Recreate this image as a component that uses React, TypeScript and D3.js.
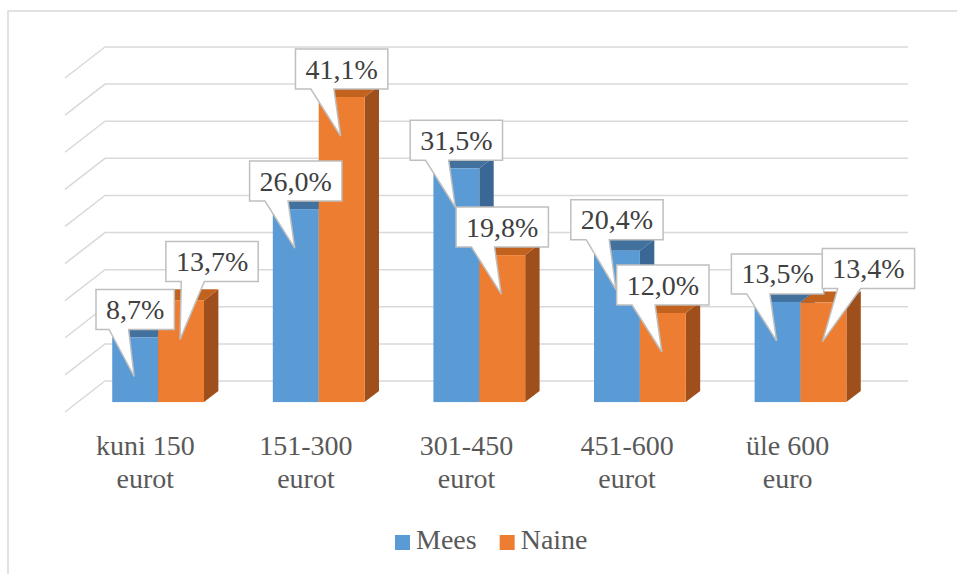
import { useEffect, useRef } from 'react';
import * as d3 from 'd3';

const categories = ['kuni 150\neurot', '151-300\neurot', '301-450\neurot', '451-600\neurot', 'üle 600\neuro'];
const seriesNames = ['Mees', 'Naine'];
const mees = [8.7, 26.0, 31.5, 20.4, 13.5];
const naine = [13.7, 41.1, 19.8, 12.0, 13.4];
const gridValues = [0, 5, 10, 15, 20, 25, 30, 35, 40, 45];

const W = 957;
const H = 574;
const FONT = "'Times New Roman', 'Liberation Serif', Tinos, 'DejaVu Serif', serif";

// face colours: front, top, side
const palette: Record<string, [string, string, string]> = {
  Mees: ['#5b9bd5', '#41719c', '#3a6793'],
  Naine: ['#ed7d31', '#c2621f', '#9e4f1b'],
};

// hand nudges for callouts that Excel moved off their default spot
const labelShift: Record<string, [number, number]> = {
  'Naine-0': [31, -11],
  'Mees-3': [0, -3],
  'Naine-4': [45, -6],
};

export default function App() {
  const svgRef = useRef<SVGSVGElement>(null);

  useEffect(() => {
    if (!svgRef.current) return;
    const svg = d3.select(svgRef.current);
    svg.selectAll('*').remove();

    // floor: front edge starts at (65, 412), depth vector goes to back wall
    const floorX = 65;
    const floorY = 412;
    const depth = { x: 40, y: -31 };
    const floorWidth = 803;
    const barT0 = 0.32;
    const barT1 = 0.68;

    const x = d3.scaleBand<string>().domain(categories).range([0, floorWidth]);
    const xs = d3.scaleBand<string>().domain(seriesNames).range([0, x.bandwidth()]).paddingOuter(0.75);
    const h = d3.scaleLinear().domain([0, 45]).range([0, 334]);

    const back = { x: floorX + depth.x, y: floorY + depth.y };
    const front = { x: floorX + depth.x * barT0, y: floorY + depth.y * barT0 };
    const bd = { x: depth.x * (barT1 - barT0), y: depth.y * (barT1 - barT0) };

    // chart border
    svg.append('rect')
      .attr('x', 8).attr('y', 11)
      .attr('width', 980).attr('height', 580)
      .attr('fill', 'none')
      .attr('stroke', '#d9d9d9')
      .attr('stroke-width', 1.5);

    // back wall + side wall gridlines
    const grid = svg.append('g').attr('stroke', '#d9d9d9').attr('stroke-width', 1.5).attr('fill', 'none');
    gridValues.forEach((v) => {
      const y = back.y - h(v);
      grid.append('path')
        .attr('d', `M${back.x - depth.x},${y - depth.y}L${back.x},${y}H${back.x + floorWidth}`);
    });

    // bars
    const bw = xs.bandwidth();
    type Bar = { s: string; i: number; v: number; x0: number; top: number };
    const bars: Bar[] = [];
    categories.forEach((c, i) => {
      seriesNames.forEach((s) => {
        const v = s === 'Mees' ? mees[i] : naine[i];
        bars.push({ s, i, v, x0: front.x + (x(c) ?? 0) + (xs(s) ?? 0), top: front.y - h(v) });
      });
    });

    const gBars = svg.append('g');
    bars.forEach((b) => {
      const [cf, ct, cs] = palette[b.s];
      const x1 = b.x0 + bw;
      const base = front.y;
      gBars.append('path')
        .attr('d', `M${x1},${base}L${x1 + bd.x},${base + bd.y}L${x1 + bd.x},${b.top + bd.y}L${x1},${b.top}Z`)
        .attr('fill', cs);
      gBars.append('path')
        .attr('d', `M${b.x0},${b.top}L${x1},${b.top}L${x1 + bd.x},${b.top + bd.y}L${b.x0 + bd.x},${b.top + bd.y}Z`)
        .attr('fill', ct);
      gBars.append('rect')
        .attr('x', b.x0).attr('y', b.top)
        .attr('width', bw).attr('height', base - b.top)
        .attr('fill', cf);
    });

    // category labels
    const gCat = svg.append('g')
      .style('font-family', FONT)
      .attr('font-size', 28)
      .attr('fill', '#595959')
      .attr('text-anchor', 'middle');
    categories.forEach((c) => {
      const cx = floorX + (x(c) ?? 0) + x.bandwidth() / 2;
      c.split('\n').forEach((line, k) => {
        gCat.append('text').attr('x', cx).attr('y', 455 + k * 33).text(line);
      });
    });

    // data label callouts
    const fmt = (v: number) => d3.format('.1f')(v).replace('.', ',') + '%';
    const gLab = svg.append('g');
    seriesNames.forEach((s) => {
      bars.filter((b) => b.s === s).forEach((b) => {
        const cx = b.x0 + bw / 2;
        const tip = { x: cx - 1, y: b.top + 39 };
        const [sx, sy] = labelShift[`${s}-${b.i}`] ?? [0, 0];
        const bc = { x: cx + sx, y: b.top - 28 + sy };
        const g = gLab.append('g');
        const txt = g.append('text')
          .attr('x', bc.x).attr('y', bc.y)
          .attr('dy', '0.34em')
          .attr('text-anchor', 'middle')
          .style('font-family', FONT)
          .attr('font-size', 28)
          .attr('fill', '#404040')
          .text(fmt(b.v));
        const tw = (txt.node() as SVGTextElement).getComputedTextLength();
        const bwid = tw + 20;
        const bh = 40;
        const L = bc.x - bwid / 2;
        const R = bc.x + bwid / 2;
        const T = bc.y - bh / 2;
        const B = bc.y + bh / 2;
        const left = tip.x < bc.x;
        const w1 = L + bwid * (left ? 2 : 7) / 12;
        const w2 = L + bwid * (left ? 5 : 10) / 12;
        g.insert('path', 'text')
          .attr('d', `M${L},${T}H${R}V${B}H${w2}L${tip.x},${tip.y}L${w1},${B}H${L}Z`)
          .attr('fill', '#fff')
          .attr('stroke', '#bfbfbf')
          .attr('stroke-width', 1.5);
      });
    });

    // legend
    const gLeg = svg.append('g').style('font-family', FONT).attr('font-size', 28).attr('fill', '#595959');
    let lx = 395;
    seriesNames.forEach((s) => {
      gLeg.append('rect').attr('x', lx).attr('y', 535).attr('width', 15).attr('height', 15).attr('fill', palette[s][0]);
      const t = gLeg.append('text').attr('x', lx + 21).attr('y', 549).text(s);
      lx += 21 + (t.node() as SVGTextElement).getComputedTextLength() + 23;
    });
  }, []);

  return (
    <svg
      ref={svgRef}
      width={W}
      height={H}
      style={{ position: 'absolute', left: 0, top: 0, background: '#fff' }}
    />
  );
}
